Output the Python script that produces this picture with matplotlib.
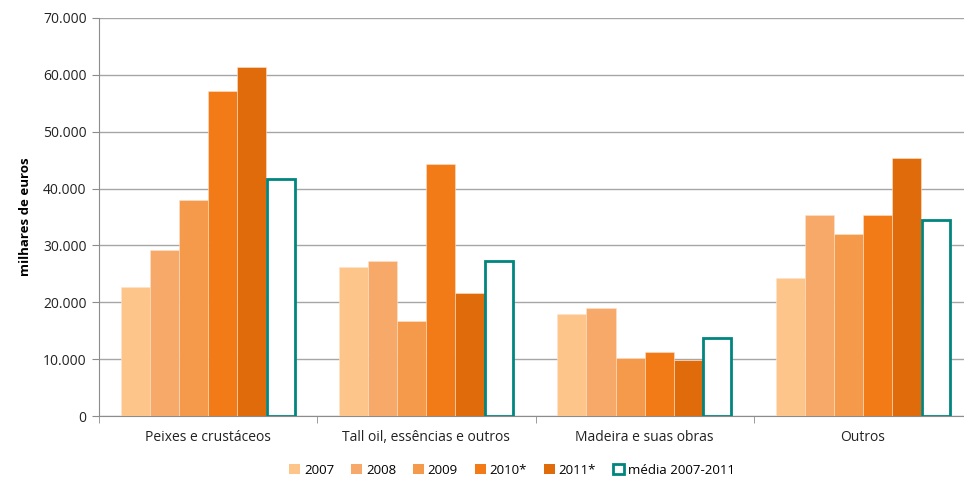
import numpy as np
import matplotlib.pyplot as plt
from matplotlib.patches import Patch

categorias = ["Peixes e crustáceos", "Tall oil, essências e outros",
              "Madeira e suas obras", "Outros"]
anos = ["2007", "2008", "2009", "2010*", "2011*"]
v2007 = [22750, 26200, 18000, 24300]
v2008 = [29250, 27200, 19050, 35350]
v2009 = [38000, 16650, 10250, 31950]
v2010 = [57200, 44250, 11250, 35400]
v2011 = [61300, 21650, 9900, 45400]
media = [41700, 27200, 13700, 34500]

cores = ["#FDC58A", "#F7A96A", "#F5994B", "#F27B18", "#E06B0B"]
teal = "#00857F"

plt.rcParams['font.family'] = ['Open Sans', 'DejaVu Sans']

fig = plt.figure(figsize=(9.64, 4.79), dpi=100)
ax = fig.add_axes([99/964, 63/479, 873/964, 398/479])

x = np.arange(len(categorias))
w = 0.8 / 6
series = [v2007, v2008, v2009, v2010, v2011]
for i, (vals, c) in enumerate(zip(series, cores)):
    ax.bar(x - 0.4 + w*(i + 0.5), vals, w, color=c, edgecolor='#FDE3CC',
           linewidth=0.4, zorder=3)
ax.bar(x - 0.4 + w*5.5, media, w*0.96, facecolor='white', edgecolor=teal,
       linewidth=2, zorder=3)

ax.set_xlim(-0.5, 3.5)
ax.set_ylim(0, 70000)
ax.set_yticks(np.arange(0, 70001, 10000))
ax.set_yticklabels([f"{int(v):,}".replace(",", ".") for v in np.arange(0, 70001, 10000)],
                   fontsize=10, color='#222222')
ax.set_xticks(x)
ax.set_xticklabels(categorias, fontsize=10, color='#222222')
ax.set_xticks(np.arange(-0.5, 4, 1), minor=True)
ax.tick_params(axis='x', which='major', length=0, pad=10)
ax.tick_params(axis='x', which='minor', length=5, color='#8C8C8C')
ax.tick_params(axis='y', length=5, color='#8C8C8C', pad=4)
ax.set_ylabel("milhares de euros", fontsize=9.5, fontweight='bold', labelpad=8)

ax.grid(axis='y', color='#A6A6A6', linewidth=1, zorder=0)
for s in ['top', 'right']:
    ax.spines[s].set_visible(False)
ax.spines['left'].set_color('#8C8C8C')
ax.spines['bottom'].set_color('#8C8C8C')

handles = [Patch(facecolor=c, edgecolor='none') for c in cores]
handles.append(Patch(facecolor='white', edgecolor=teal, linewidth=2))
fig.legend(handles, anos + ["média 2007-2011"], loc='center',
           bbox_to_anchor=(512/964, 1 - 470/479), ncol=6, frameon=False,
           fontsize=9.5, handlelength=0.8, handleheight=0.8,
           handletextpad=0.3, columnspacing=1.3)

fig.savefig("out.png", dpi=100)
